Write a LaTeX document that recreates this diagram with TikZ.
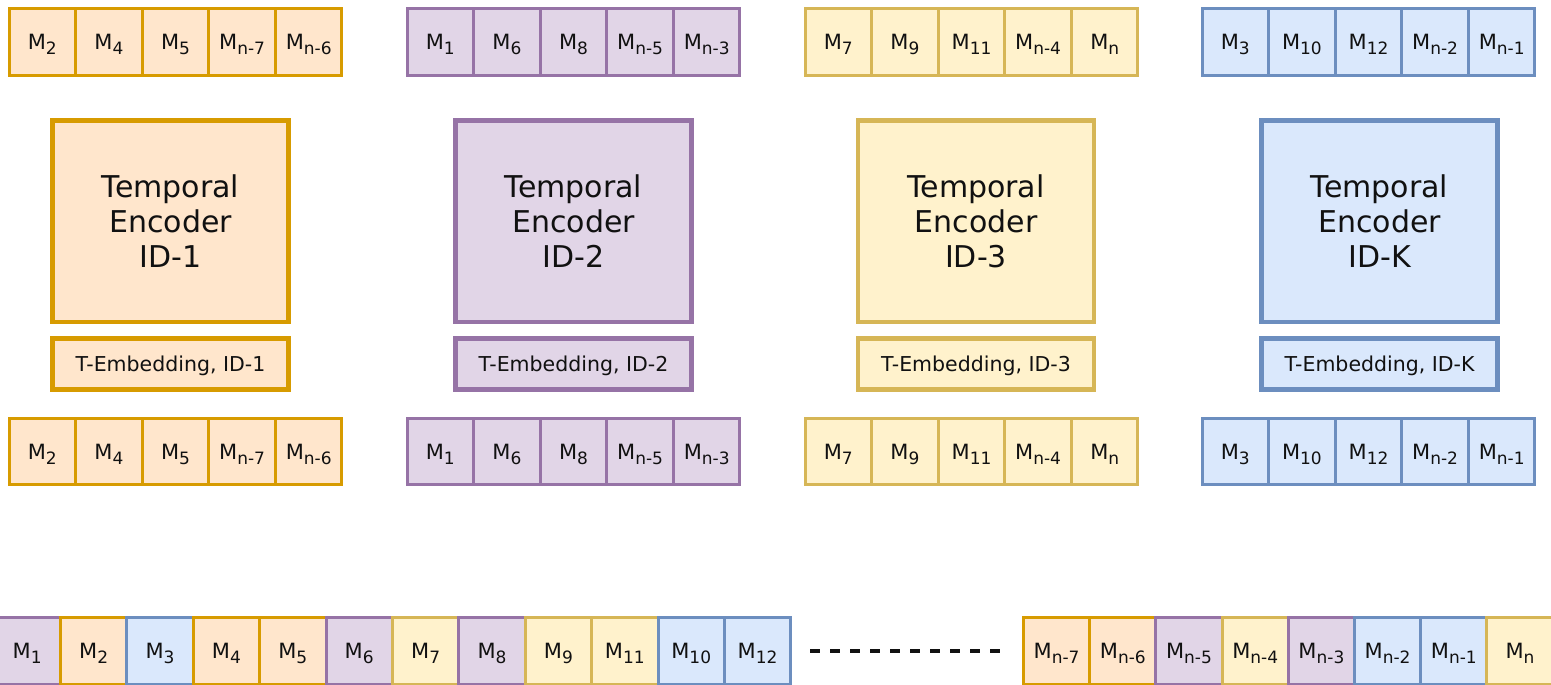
\documentclass[tikz,border=0pt]{standalone}
\usepackage{fontspec}
\setmainfont{DejaVu Sans}

\definecolor{orgF}{HTML}{FFE6CC}\definecolor{orgL}{HTML}{D79B00}
\definecolor{purF}{HTML}{E1D5E7}\definecolor{purL}{HTML}{9673A6}
\definecolor{yelF}{HTML}{FFF2CC}\definecolor{yelL}{HTML}{D6B656}
\definecolor{bluF}{HTML}{DAE8FC}\definecolor{bluL}{HTML}{6C8EBF}
\definecolor{ink}{HTML}{111111}

% M with a lowered, smaller index (index kept out of the vertical centring)
\newcommand\msub[1]{M\smash{\raisebox{-5pt}{\fontsize{17}{17}\selectfont #1}}}

\tikzset{
  cell/.style={rectangle, minimum width=66.4pt, minimum height=66.6pt, inner sep=0pt,
    line width=3pt, text=ink, font=\fontsize{21}{21}\selectfont},
  enc/.style={rectangle, minimum width=236pt, minimum height=201.5pt, inner sep=0pt,
    line width=4.6pt, align=center, text=ink, font=\fontsize{30}{35}\selectfont},
  emb/.style={rectangle, minimum width=236pt, minimum height=51pt, inner sep=0pt,
    line width=4.6pt, text=ink, text depth=0pt, font=\fontsize{20.5}{20.5}\selectfont},
  org/.style={fill=orgF, draw=orgL},
  pur/.style={fill=purF, draw=purL},
  yel/.style={fill=yelF, draw=yelL},
  blu/.style={fill=bluF, draw=bluL},
  gap/.style={line width=3.5pt, draw=ink, dash pattern=on 10pt off 10pt},
}

\begin{document}
\begin{tikzpicture}[x=1pt, y=-1pt]
\useasboundingbox (0,0) rectangle (1551,685);
\clip (0,0) rectangle (1551,685);

% token groups above and below each encoder
\foreach \st/\left/\labs [count=\g] in {
    org/9/{2,4,5,n-7,n-6},
    pur/407/{1,6,8,n-5,n-3},
    yel/805/{7,9,11,n-4,n},
    blu/1202/{3,10,12,n-2,n-1}} {
  \foreach \lab [count=\i from 0] in \labs {
    \node[cell,\st] (in-\g-\i) at ({\left+33.3+66.6*\i}, 41.8) {\msub{\lab}};
    \node[cell,\st] (out-\g-\i) at ({\left+33.3+66.6*\i}, 451.5) {\msub{\lab}};
  }
}

% encoders and their embeddings
\foreach \st/\cx/\id [count=\g] in {org/170.5/1, pur/573.5/2, yel/976/3, blu/1379.5/K} {
  \node[enc,\st] (enc-\g) at (\cx, 221.25) {Temporal\\Encoder\\ID-\id};
  \node[emb,\st] (emb-\g) at (\cx, 364) {T-Embedding, ID-\id};
}

% full interleaved sequence
\foreach \lab/\st [count=\i from 0] in {1/pur,2/org,3/blu,4/org,5/org,6/pur,7/yel,8/pur,9/yel,11/yel,10/blu,12/blu} {
  \node[cell,\st] (seqA-\i) at ({-6+33.2+66.4*\i}, 651) {\msub{\lab}};
}
\foreach \lab/\st [count=\i from 0] in {n-7/org,n-6/org,n-5/pur,n-4/yel,n-3/pur,n-2/blu,n-1/blu,n/yel} {
  \node[cell,\st] (seqB-\i) at ({1023.5+33.1+66.2*\i}, 651) {\msub{\lab}};
}

\coordinate (gapL) at (810,651);
\coordinate (gapR) at (1000,651);
\draw[gap] (gapL) -- (gapR);
\end{tikzpicture}
\end{document}
